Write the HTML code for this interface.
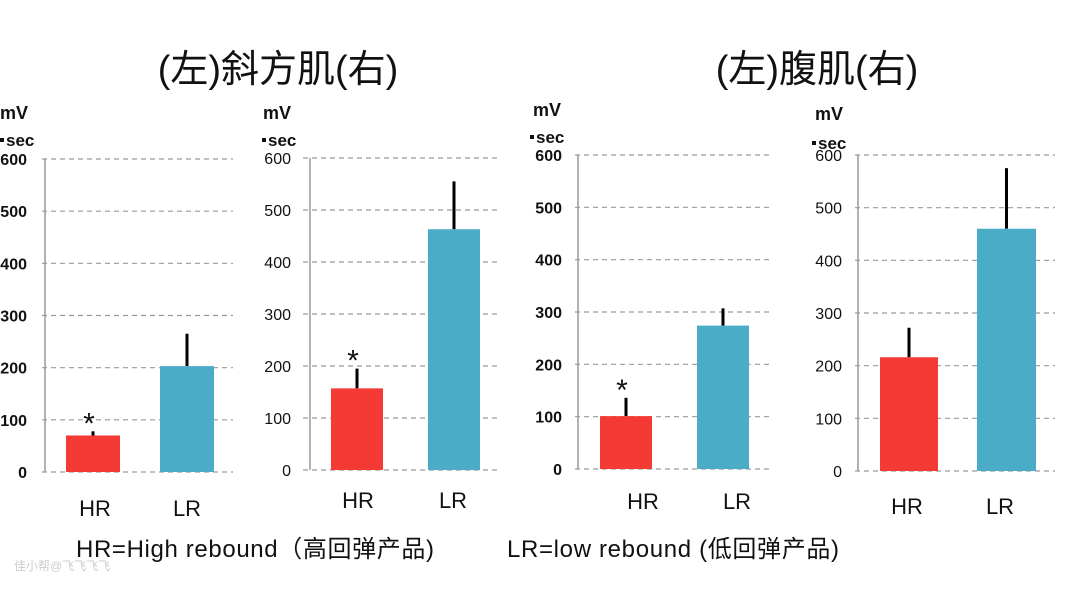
<!DOCTYPE html>
<html><head><meta charset="utf-8"><style>
body{margin:0;background:#fff;width:1080px;height:589px;overflow:hidden}
svg{display:block}
text{font-family:"Liberation Sans","Noto Sans CJK SC",sans-serif}
</style></head><body>
<svg id="s" width="1080" height="589" xmlns="http://www.w3.org/2000/svg">
<text x="278" y="82" font-size="38" text-anchor="middle" fill="#111">(左)斜方肌(右)</text>
<text x="817" y="82" font-size="38" text-anchor="middle" fill="#111">(左)腹肌(右)</text>
<text x="76" y="557" font-size="24" fill="#111" textLength="358">HR=High rebound（高回弹产品)</text>
<text x="507" y="557" font-size="24" fill="#111" textLength="332">LR=low rebound (低回弹产品)</text>
<text x="14" y="570" font-size="12" fill="#ccc">佳小帮@飞飞飞飞</text>
</svg>
<script>
const s=document.getElementById('s');
function add(h){s.insertAdjacentHTML('beforeend',h);}
const charts=[
 {ax:45,g0:42,g1:233,y6:159,y0:472,lr:27,bold:1,mv:[0,119],sec:[0,146],
  bars:[[66,120,70,78,'#f33a35',1],[160,214,203,265,'#4aacc6',0]],lab:[[95,'HR'],[187,'LR']],ly:516},
 {ax:310,g0:303,g1:498,y6:158,y0:470,lr:291,bold:0,mv:[263,119],sec:[262,146],
  bars:[[331,383,157,195,'#f33a35',1],[428,480,463,555,'#4aacc6',0]],lab:[[358,'HR'],[453,'LR']],ly:508},
 {ax:578,g0:575,g1:772,y6:155,y0:469,lr:562,bold:1,mv:[533,116],sec:[530,143],
  bars:[[600,652,101,136,'#f33a35',1],[697,749,274,307,'#4aacc6',0]],lab:[[643,'HR'],[737,'LR']],ly:509},
 {ax:858,g0:855,g1:1055,y6:155,y0:471,lr:842,bold:0,mv:[815,120],sec:[812,149],
  bars:[[880,938,216,272,'#f33a35',0],[977,1036,460,575,'#4aacc6',0]],lab:[[907,'HR'],[1000,'LR']],ly:514}
];
for(const c of charts){
 const sc=(c.y0-c.y6)/600, Y=v=>c.y0-v*sc;
 const fw=c.bold?'bold':'normal';
 add(`<text x="${c.mv[0]}" y="${c.mv[1]}" font-size="18" font-weight="bold" fill="#111">mV</text>`);
 add(`<rect x="${c.sec[0]}" y="${c.sec[1]-8}" width="4" height="4" fill="#111"/><text x="${c.sec[0]+6}" y="${c.sec[1]}" font-size="17" font-weight="bold" fill="#111">sec</text>`);
 for(let v=0;v<=600;v+=100){
  const y=Y(v);
  add(`<line x1="${c.g0}" x2="${c.g1}" y1="${y}" y2="${y}" stroke="#999" stroke-width="1.2" stroke-dasharray="5,4"/>`);
  add(`<text x="${c.lr}" y="${y+6}" font-size="16" font-weight="${fw}" text-anchor="end" fill="#111">${v}</text>`);
 }
 add(`<line x1="${c.ax}" x2="${c.ax}" y1="${c.y6}" y2="${c.y0}" stroke="#999" stroke-width="1.5"/>`);
 for(const b of c.bars){
  const [x0,x1,v,e,col,ast]=b, cx=(x0+x1)/2;
  add(`<line x1="${cx}" x2="${cx}" y1="${Y(e)}" y2="${Y(v)}" stroke="#000" stroke-width="3"/>`);
  add(`<rect x="${x0}" y="${Y(v)}" width="${x1-x0}" height="${c.y0-Y(v)}" fill="${col}"/>`);
  if(ast) add(`<text x="${cx-4}" y="${Y(e)+2}" font-size="30" text-anchor="middle" fill="#111">*</text>`);
 }
 for(const l of c.lab) add(`<text x="${l[0]}" y="${c.ly}" font-size="22" text-anchor="middle" fill="#111">${l[1]}</text>`);
}
</script>
</body></html>
